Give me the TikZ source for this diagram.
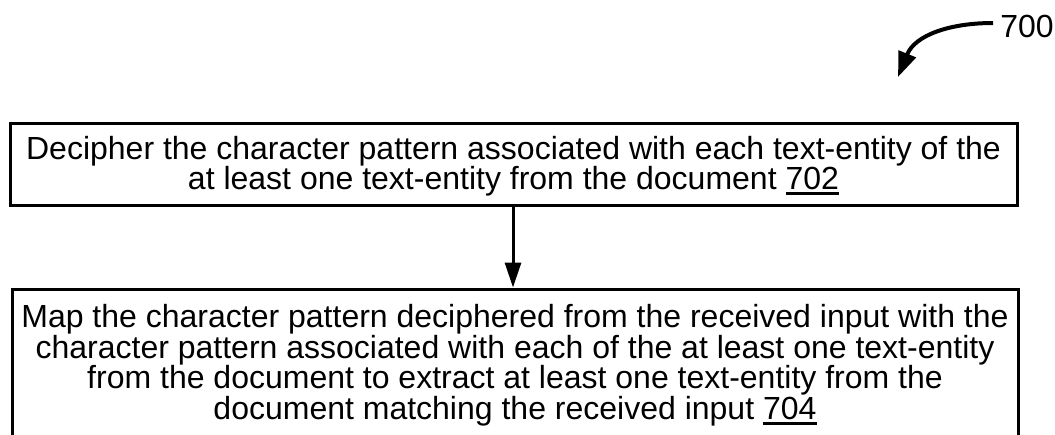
\documentclass[tikz,border=0pt]{standalone}
\usepackage{fontspec}
\setmainfont{Liberation Sans}
\usetikzlibrary{arrows.meta}
% reference numeral with a heavy underline
\newcommand\refnum[1]{\setbox0\hbox{#1}\rlap{\rule[-5pt]{\wd0}{2.5pt}}\box0}
\newcommand\topstrut{\rule{0pt}{27.5pt}}
\begin{document}
\begin{tikzpicture}[x=1pt,y=-1pt,
  stepbox/.style={draw,line width=3pt,align=center,inner sep=0pt,
    font=\fontsize{32}{29}\selectfont},
  flow/.style={line width=3pt,-{Triangle[width=16pt,length=25pt]}},
  refarrow/.style={line width=4pt,-{Triangle[width=18pt,length=25pt]}}]
\clip (0,0) rectangle (1055,434);
\useasboundingbox (0,0) rectangle (1055,434);

% figure reference label and its pointer
\node[font=\fontsize{32}{29}\selectfont,inner sep=0pt] (lbl) at (1027,26) {700};
\coordinate (lblstart) at (993,23);
\draw[refarrow] (lblstart) .. controls (950,23) and (915,35) .. (898,77);

% process steps
\node[stepbox,minimum width=1007pt,minimum height=82pt] (s702) at (513.5,164)
  {\topstrut Decipher the character pattern associated with each text-entity of the\\
   at least one text-entity from the document \refnum{702}};
\node[stepbox,minimum width=1006pt,minimum height=148pt] (s704) at (515,363)
  {\topstrut Map the character pattern deciphered from the received input with the\\
   character pattern associated with each of the at least one text-entity\\
   from the document to extract at least one text-entity from the\\
   document matching the received input \refnum{704}};

\draw[flow] (s702.south -| 513,0) -- (s704.north -| 513,0);
\end{tikzpicture}
\end{document}
